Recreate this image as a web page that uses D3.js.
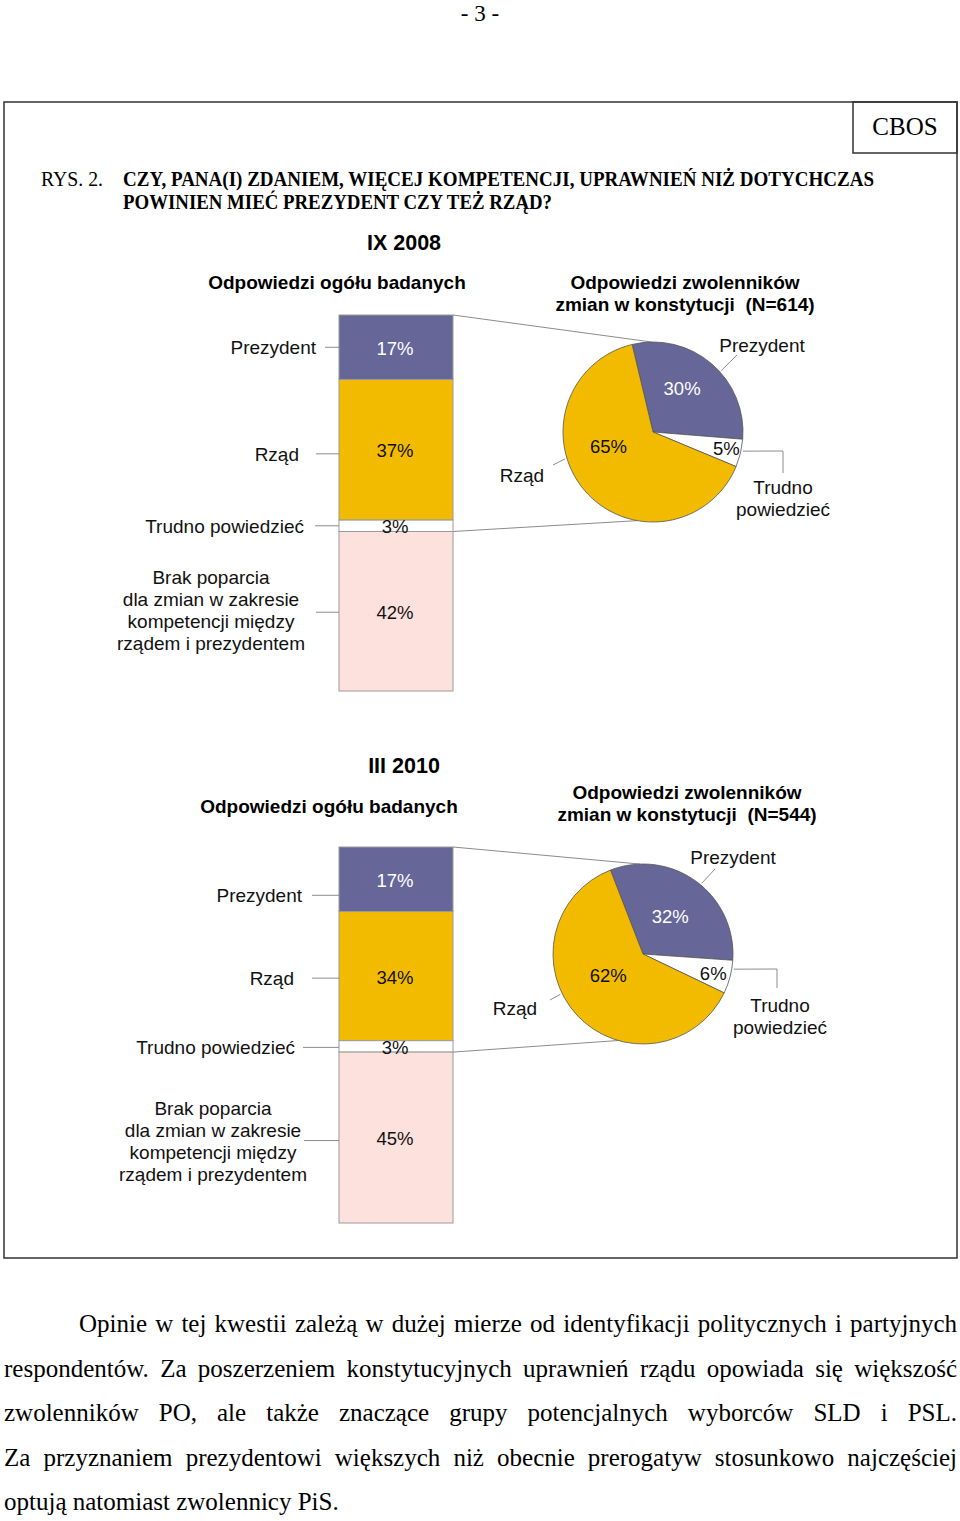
<!DOCTYPE html>
<html>
<head>
<meta charset="utf-8">
<script src="https://cdn.jsdelivr.net/npm/d3@7"></script>
<style>
body { margin: 0; background: #fff; }
svg { display: block; }
.sans { font-family: "Liberation Sans", Arial, sans-serif; }
.serif { font-family: "Liberation Serif", "Times New Roman", serif; }
</style>
</head>
<body>
<svg id="page" width="960" height="1521"></svg>
<script>
// stacked bar: wszyscy badani
var barCategories = ['Prezydent', 'Rząd', 'Trudno powiedzieć', 'Brak poparcia'];
var barLabelLines = [
    ['Prezydent'],
    ['Rząd'],
    ['Trudno powiedzieć'],
    ['Brak poparcia', 'dla zmian w zakresie', 'kompetencji między', 'rządem i prezydentem']
];
var bar2008 = [17, 37, 3, 42];
var bar2010 = [17, 34, 3, 45];

// pie: zwolennicy zmian w konstytucji
var pieCategories = ['Prezydent', 'Trudno powiedzieć', 'Rząd'];
var pieLabelLines = [['Prezydent'], ['Trudno', 'powiedzieć'], ['Rząd']];
var pie2008 = [30, 5, 65];
var pie2010 = [32, 6, 62];

var periods = ['IX 2008', 'III 2010'];
var sampleN = [614, 544];

var barColors = ['#666699', '#f2bb00', '#ffffff', '#fde1dc'];
var pieColors = ['#666699', '#ffffff', '#f2bb00'];

var paragraph = [
    'Opinie w tej kwestii zależą w dużej mierze od identyfikacji politycznych i partyjnych',
    'respondentów. Za poszerzeniem konstytucyjnych uprawnień rządu opowiada się większość',
    'zwolenników PO, ale także znaczące grupy potencjalnych wyborców SLD i PSL.',
    'Za przyznaniem prezydentowi większych niż obecnie prerogatyw stosunkowo najczęściej',
    'optują natomiast zwolennicy PiS.'
];

var svg = d3.select('#page');

// page header + frame
svg.append('text').attr('class', 'serif')
    .attr('x', 480).attr('y', 21).attr('text-anchor', 'middle')
    .style('font-size', '23px').text('- 3 -');

svg.append('rect')
    .attr('x', 4).attr('y', 102).attr('width', 953).attr('height', 1156)
    .attr('fill', 'none').attr('stroke', '#333').attr('stroke-width', 1.5);
svg.append('rect')
    .attr('x', 853).attr('y', 102).attr('width', 104).attr('height', 51)
    .attr('fill', 'none').attr('stroke', '#333').attr('stroke-width', 1.5);
svg.append('text').attr('class', 'serif')
    .attr('x', 905).attr('y', 135).attr('text-anchor', 'middle')
    .style('font-size', '25px').text('CBOS');

svg.append('text').attr('class', 'serif')
    .attr('x', 41).attr('y', 186).attr('textLength', 62).attr('lengthAdjust', 'spacingAndGlyphs')
    .style('font-size', '21px').text('RYS. 2.');
svg.append('text').attr('class', 'serif')
    .attr('x', 123).attr('y', 186).attr('textLength', 751).attr('lengthAdjust', 'spacingAndGlyphs')
    .style('font-size', '21px').style('font-weight', 'bold')
    .text('CZY, PANA(I) ZDANIEM, WIĘCEJ KOMPETENCJI, UPRAWNIEŃ NIŻ DOTYCHCZAS');
svg.append('text').attr('class', 'serif')
    .attr('x', 123).attr('y', 209).attr('textLength', 429).attr('lengthAdjust', 'spacingAndGlyphs')
    .style('font-size', '21px').style('font-weight', 'bold')
    .text('POWINIEN MIEĆ PREZYDENT CZY TEŻ RZĄD?');

var layouts = [
    {
        bar: bar2008, pie: pie2008, period: periods[0], n: sampleN[0],
        periodY: 243, leftTitleX: 337, leftTitleY: 282, rightTitleX: 685, rightTitleY: 282,
        barX: 339, barTop: 315, barW: 114, barH: 376,
        labelX: [316, 299, 304, 211], leaderX: [325, 316, 315, 316], labelShift: [0, 4, 0, 1], blockShift: -2,
        cx: 653, cy: 432, r: 90, start: -13.4,
        valAngleShift: [-6.6, -1.2, 22], valR: [52, 75, 47],
        nameAt: [[109, -87], [130, 55], [-131, 43]],
        leaderFrom: [48, 102, 253],
        leaderTo: [[[84, -77]], [[130, 19], [130, 41]], [[-100, 33]]],
        linkTop: -1, linkBottom: 190
    },
    {
        bar: bar2010, pie: pie2010, period: periods[1], n: sampleN[1],
        periodY: 766, leftTitleX: 329, leftTitleY: 806, rightTitleX: 687, rightTitleY: 792,
        barX: 339, barTop: 847, barW: 114, barH: 376,
        labelX: [302, 294, 295, 213], leaderX: [312, 312, 303, 304], labelShift: [16, 2, 1, 3], blockShift: 0,
        cx: 643, cy: 954, r: 90, start: -21.2,
        valAngleShift: [0, 1, 11], valR: [46, 73, 41],
        nameAt: [[90, -97], [137, 51], [-128, 54]],
        leaderFrom: [39.7, 99.5, 244],
        leaderTo: [[[72, -85]], [[134, 15], [134, 34]], [[-93, 46]]],
        linkTop: -2, linkBottom: 196
    }
];

layouts.forEach(drawChart);

function rad(deg) { return deg * Math.PI / 180; }

function drawChart(cfg) {
    var g = svg.append('g').attr('class', 'sans');

    // titles
    g.append('text')
        .attr('x', 404).attr('y', cfg.periodY).attr('text-anchor', 'middle').attr('dominant-baseline', 'central')
        .style('font-size', '21.5px').style('font-weight', 'bold').text(cfg.period);
    g.append('text')
        .attr('x', cfg.leftTitleX).attr('y', cfg.leftTitleY).attr('text-anchor', 'middle').attr('dominant-baseline', 'central')
        .style('font-size', '19px').style('font-weight', 'bold').text('Odpowiedzi ogółu badanych');
    var rt = g.append('text')
        .attr('x', cfg.rightTitleX).attr('y', cfg.rightTitleY).attr('text-anchor', 'middle').attr('dominant-baseline', 'central')
        .style('font-size', '19px').style('font-weight', 'bold').style('white-space', 'pre');
    rt.append('tspan').attr('x', cfg.rightTitleX).attr('dy', 0).text('Odpowiedzi zwolenników');
    rt.append('tspan').attr('x', cfg.rightTitleX).attr('dy', 22).text('zmian w konstytucji  (N=' + cfg.n + ')');

    // stacked bar
    var y = d3.scaleLinear()
        .domain([0, d3.sum(cfg.bar)])
        .range([cfg.barTop, cfg.barTop + cfg.barH]);
    var ends = d3.cumsum(cfg.bar);
    var segs = cfg.bar.map(function(v, i) {
        return {i: i, v: v, y0: i ? ends[i - 1] : 0, y1: ends[i]};
    });
    var x1 = cfg.barX + cfg.barW;
    var trudnoBottom = y(segs[2].y1);

    // connector lines bar -> pie
    function onPie(deg, rr) {
        return [cfg.cx + rr * Math.sin(rad(deg)), cfg.cy - rr * Math.cos(rad(deg))];
    }
    var pTop = onPie(cfg.linkTop, cfg.r);
    var pBot = onPie(cfg.linkBottom, cfg.r);
    g.append('line').attr('x1', x1).attr('y1', y(0)).attr('x2', pTop[0]).attr('y2', pTop[1])
        .attr('stroke', '#8c8c8c').attr('stroke-width', 1);
    g.append('line').attr('x1', x1).attr('y1', trudnoBottom).attr('x2', pBot[0]).attr('y2', pBot[1])
        .attr('stroke', '#8c8c8c').attr('stroke-width', 1);

    g.selectAll('rect.seg').data(segs).enter().append('rect')
        .attr('class', 'seg')
        .attr('x', cfg.barX).attr('width', cfg.barW)
        .attr('y', function(d) { return y(d.y0); })
        .attr('height', function(d) { return y(d.y1) - y(d.y0); })
        .attr('fill', function(d) { return barColors[d.i]; })
        .attr('stroke', '#9a9a9a').attr('stroke-width', 1);

    g.selectAll('text.val').data(segs).enter().append('text')
        .attr('class', 'val')
        .attr('x', cfg.barX + cfg.barW / 2 - 1)
        .attr('y', function(d) { return (y(d.y0) + y(d.y1)) / 2 + 1; })
        .attr('text-anchor', 'middle').attr('dominant-baseline', 'central')
        .attr('fill', function(d) { return d.i === 0 ? '#fff' : '#111'; })
        .style('font-size', '18.5px')
        .text(function(d) { return d.v + '%'; });

    // left category labels with leaders
    segs.forEach(function(d) {
        var ly = (y(d.y0) + y(d.y1)) / 2 + cfg.labelShift[d.i];
        g.append('line').attr('x1', cfg.leaderX[d.i]).attr('x2', cfg.barX)
            .attr('y1', ly).attr('y2', ly).attr('stroke', '#8c8c8c').attr('stroke-width', 1);
        var lines = barLabelLines[d.i];
        var multi = lines.length > 1;
        var t = g.append('text')
            .attr('text-anchor', multi ? 'middle' : 'end')
            .attr('dominant-baseline', 'central')
            .style('font-size', '19px').attr('fill', '#111');
        lines.forEach(function(s, k) {
            t.append('tspan').attr('x', cfg.labelX[d.i])
                .attr('y', ly + (k - (lines.length - 1) / 2) * 22 + (multi ? cfg.blockShift : 0))
                .text(s);
        });
    });

    // pie
    var pie = d3.pie().sort(null)
        .startAngle(rad(cfg.start))
        .endAngle(rad(cfg.start) + 2 * Math.PI);
    var arcs = pie(cfg.pie);
    var arc = d3.arc().innerRadius(0).outerRadius(cfg.r);
    var pg = g.append('g').attr('transform', 'translate(' + cfg.cx + ',' + cfg.cy + ')');

    pg.selectAll('path').data(arcs).enter().append('path')
        .attr('d', arc)
        .attr('fill', function(d, i) { return pieColors[i]; })
        .attr('stroke', '#555').attr('stroke-width', 0.8);

    pg.selectAll('text.pv').data(arcs).enter().append('text')
        .attr('class', 'pv')
        .attr('transform', function(d, i) {
            var a = (d.startAngle + d.endAngle) / 2 + rad(cfg.valAngleShift[i]);
            var rr = cfg.valR[i];
            return 'translate(' + (rr * Math.sin(a)) + ',' + (-rr * Math.cos(a)) + ')';
        })
        .attr('text-anchor', 'middle').attr('dominant-baseline', 'central')
        .attr('fill', function(d, i) { return i === 0 ? '#fff' : '#111'; })
        .style('font-size', '18.5px')
        .text(function(d) { return d.data + '%'; });

    // pie category labels
    arcs.forEach(function(d, i) {
        var a = rad(cfg.leaderFrom[i]);
        var pts = [[(cfg.r + 2) * Math.sin(a), -(cfg.r + 2) * Math.cos(a)]].concat(cfg.leaderTo[i]);
        pg.append('path')
            .attr('d', d3.line()(pts))
            .attr('fill', 'none').attr('stroke', '#8c8c8c').attr('stroke-width', 1);
        var lines = pieLabelLines[i];
        var t = pg.append('text').attr('text-anchor', 'middle').attr('dominant-baseline', 'central')
            .style('font-size', '19px').attr('fill', '#111');
        lines.forEach(function(s, k) {
            t.append('tspan').attr('x', cfg.nameAt[i][0]).attr('y', cfg.nameAt[i][1] + k * 21.5).text(s);
        });
    });
}

// body text, justified line by line
var pg = svg.append('g').attr('class', 'serif').style('font-size', '25px').attr('fill', '#000');
paragraph.forEach(function(line, i) {
    var x0 = i === 0 ? 79 : 4;
    var t = pg.append('text').attr('x', x0).attr('y', 1332 + i * 44.6).text(line);
    if (i < paragraph.length - 1) {
        var len = t.node().getComputedTextLength();
        var spaces = line.split(' ').length - 1;
        t.attr('word-spacing', (957 - x0 - len) / spaces);
    }
});
</script>
</body>
</html>
